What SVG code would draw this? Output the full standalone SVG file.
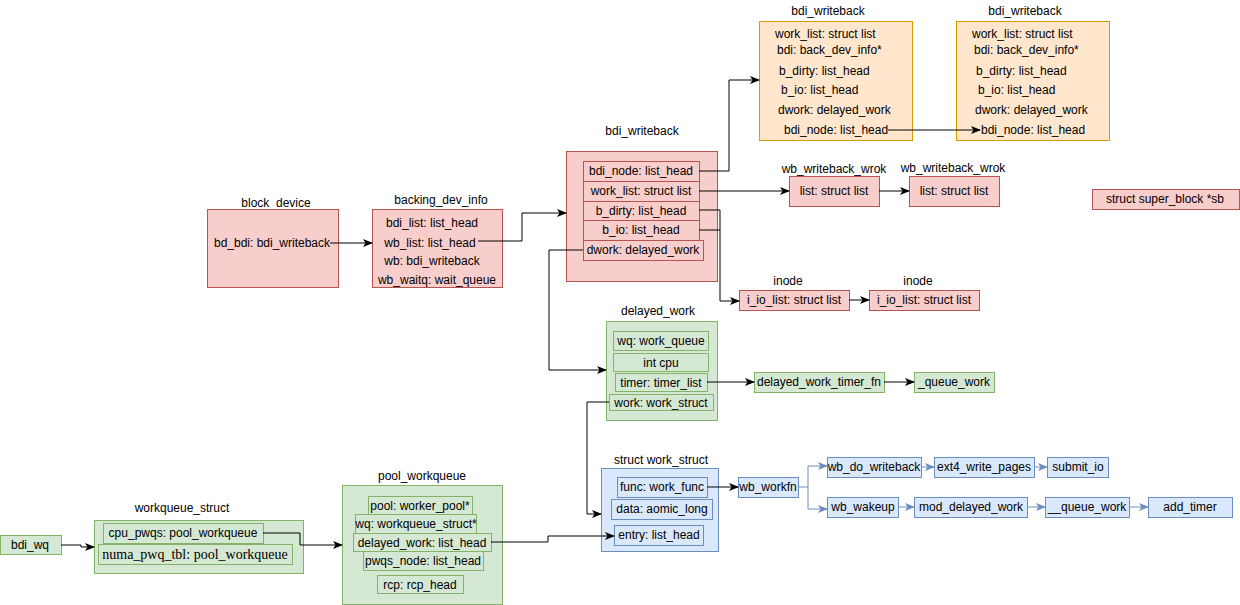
<svg xmlns="http://www.w3.org/2000/svg" width="1240" height="605" viewBox="0 0 1240 605">
<defs>
<style>
text{font-family:"Liberation Sans",Arial,sans-serif;font-size:12px;fill:#000}
.c{text-anchor:middle}
.serif{font-family:"Liberation Serif","Times New Roman",serif;font-size:14px}
.red{fill:#f8cecc;stroke:#b85450;stroke-width:1}
.org{fill:#ffe6cc;stroke:#d79b00;stroke-width:1}
.grn{fill:#d5e8d4;stroke:#82b366;stroke-width:1}
.blu{fill:#dae8fc;stroke:#6c8ebf;stroke-width:1}
.ln{fill:none;stroke:#000;stroke-width:1;marker-end:url(#ab)}
.lnn{fill:none;stroke:#000;stroke-width:1}
.bl{fill:none;stroke:#6c8ebf;stroke-width:1;marker-end:url(#abb)}
</style>
<marker id="ab" viewBox="0 0 10 8" refX="9" refY="4" markerWidth="10" markerHeight="8" markerUnits="userSpaceOnUse" orient="auto">
<path d="M0,0 L10,4 L0,8 L2.5,4 z" fill="#000"/>
</marker>
<marker id="abb" viewBox="0 0 10 8" refX="9" refY="4" markerWidth="10" markerHeight="8" markerUnits="userSpaceOnUse" orient="auto">
<path d="M0,0 L10,4 L0,8 L2.5,4 z" fill="#6c8ebf"/>
</marker>
</defs>
<rect width="1240" height="605" fill="#fff"/>

<g id="bdi_writeback_top1">
<text class="c" x="828" y="15">bdi_writeback</text>
<rect class="org" x="759.5" y="21.5" width="153" height="119"/>
<text x="775" y="38">work_list: struct list</text>
<text x="777" y="54">bdi: back_dev_info*</text>
<text x="779" y="75">b_dirty: list_head</text>
<text x="781" y="94">b_io: list_head</text>
<text x="778" y="114">dwork: delayed_work</text>
<text x="784" y="134">bdi_node: list_head</text>
</g>

<g id="bdi_writeback_top2">
<text class="c" x="1025" y="15">bdi_writeback</text>
<rect class="org" x="956.5" y="21.5" width="153" height="119"/>
<text x="972" y="38">work_list: struct list</text>
<text x="974" y="54">bdi: back_dev_info*</text>
<text x="976" y="75">b_dirty: list_head</text>
<text x="978" y="94">b_io: list_head</text>
<text x="975" y="114">dwork: delayed_work</text>
<text x="981" y="134">bdi_node: list_head</text>
</g>

<g id="bdi_writeback_mid">
<text class="c" x="642" y="135">bdi_writeback</text>
<rect class="red" x="566.5" y="151.5" width="151" height="130"/>
<rect class="red" x="583.5" y="161.5" width="116" height="20"/>
<text class="c" x="641" y="175">bdi_node: list_head</text>
<rect class="red" x="583.5" y="181.5" width="116" height="20"/>
<text class="c" x="641" y="195">work_list: struct list</text>
<rect class="red" x="583.5" y="201.5" width="116" height="19"/>
<text class="c" x="641" y="215">b_dirty: list_head</text>
<rect class="red" x="583.5" y="220.5" width="116" height="20"/>
<text class="c" x="641" y="234">b_io: list_head</text>
<rect class="red" x="583.5" y="240.5" width="120" height="20"/>
<text class="c" x="643" y="254">dwork: delayed_work</text>
</g>

<g id="block_device">
<text class="c" x="276" y="207">block_device</text>
<rect class="red" x="207.5" y="209.5" width="131" height="78"/>
<text class="c" x="272" y="247">bd_bdi: bdi_writeback</text>
</g>

<g id="backing_dev_info">
<text class="c" x="441" y="204">backing_dev_info</text>
<rect class="red" x="372.5" y="209.5" width="130" height="78"/>
<text class="c" x="432" y="227">bdi_list: list_head</text>
<text class="c" x="430" y="247">wb_list: list_head</text>
<text class="c" x="432" y="265">wb: bdi_writeback</text>
<text class="c" x="437" y="284">wb_waitq: wait_queue</text>
</g>

<g id="wb_writeback_wrok1">
<text class="c" x="834" y="173">wb_writeback_wrok</text>
<rect class="red" x="789.5" y="176.5" width="90" height="30"/>
<text class="c" x="834" y="195">list: struct list</text>
</g>
<g id="wb_writeback_wrok2">
<text class="c" x="953" y="172">wb_writeback_wrok</text>
<rect class="red" x="909.5" y="176.5" width="90" height="30"/>
<text class="c" x="954" y="195">list: struct list</text>
</g>

<g id="super_block">
<rect class="red" x="1092.5" y="189.5" width="147" height="20"/>
<text class="c" x="1165" y="203">struct super_block *sb</text>
</g>

<g id="inode1">
<text class="c" x="788" y="285">inode</text>
<rect class="red" x="739.5" y="290.5" width="110" height="20"/>
<text class="c" x="794" y="304">i_io_list: struct list</text>
</g>
<g id="inode2">
<text class="c" x="918" y="285">inode</text>
<rect class="red" x="869.5" y="290.5" width="110" height="20"/>
<text class="c" x="924" y="304">i_io_list: struct list</text>
</g>

<g id="delayed_work">
<text class="c" x="658" y="315">delayed_work</text>
<rect class="grn" x="606.5" y="321.5" width="111" height="99"/>
<rect class="grn" x="613.5" y="331.5" width="95" height="19"/>
<text class="c" x="661" y="345">wq: work_queue</text>
<rect class="grn" x="613.5" y="353.5" width="95" height="18"/>
<text class="c" x="661" y="367">int cpu</text>
<rect class="grn" x="615.5" y="373.5" width="92" height="18"/>
<text class="c" x="661" y="387">timer: timer_list</text>
<rect class="grn" x="609.5" y="394.5" width="104" height="16"/>
<text class="c" x="661" y="407">work: work_struct</text>
</g>

<g id="delayed_work_timer_fn">
<rect class="grn" x="754.5" y="372.5" width="130" height="20"/>
<text class="c" x="819" y="386">delayed_work_timer_fn</text>
</g>
<g id="queue_work_green">
<rect class="grn" x="914.5" y="372.5" width="80" height="20"/>
<text class="c" x="954" y="386">_queue_work</text>
</g>

<g id="work_struct">
<text class="c" x="661" y="464">struct work_struct</text>
<rect class="blu" x="601.5" y="468.5" width="117" height="83"/>
<rect class="blu" x="617.5" y="477.5" width="90" height="20"/>
<text class="c" x="662" y="491">func: work_func</text>
<rect class="blu" x="611.5" y="499.5" width="101" height="20"/>
<text class="c" x="662" y="513">data: aomic_long</text>
<rect class="blu" x="614.5" y="525.5" width="89" height="20"/>
<text class="c" x="659" y="539">entry: list_head</text>
</g>

<g id="wb_workfn">
<rect class="blu" x="738.5" y="477.5" width="60" height="20"/>
<text class="c" x="768" y="491">wb_workfn</text>
</g>
<g id="wb_do_writeback">
<rect class="blu" x="827.5" y="457.5" width="94" height="20"/>
<text class="c" x="874" y="471">wb_do_writeback</text>
</g>
<g id="ext4_write_pages">
<rect class="blu" x="934.5" y="457.5" width="100" height="20"/>
<text class="c" x="984" y="471">ext4_write_pages</text>
</g>
<g id="submit_io">
<rect class="blu" x="1047.5" y="457.5" width="61" height="20"/>
<text class="c" x="1078" y="471">submit_io</text>
</g>
<g id="wb_wakeup">
<rect class="blu" x="827.5" y="497.5" width="71" height="20"/>
<text class="c" x="863" y="511">wb_wakeup</text>
</g>
<g id="mod_delayed_work">
<rect class="blu" x="914.5" y="497.5" width="113" height="20"/>
<text class="c" x="971" y="511">mod_delayed_work</text>
</g>
<g id="queue_work_blue">
<rect class="blu" x="1045.5" y="497.5" width="84" height="20"/>
<text class="c" x="1087" y="511">__queue_work</text>
</g>
<g id="add_timer">
<rect class="blu" x="1148.5" y="497.5" width="84" height="20"/>
<text class="c" x="1190" y="511">add_timer</text>
</g>

<g id="bdi_wq">
<rect class="grn" x="0.5" y="535.5" width="61" height="19"/>
<text class="c" x="30" y="549">bdi_wq</text>
</g>

<g id="workqueue_struct">
<text class="c" x="182" y="512">workqueue_struct</text>
<rect class="grn" x="94.5" y="520.5" width="209" height="53"/>
<rect class="grn" x="103.5" y="523.5" width="160" height="20"/>
<text class="c" x="183" y="537">cpu_pwqs: pool_workqueue</text>
<rect class="grn" x="98.5" y="544.5" width="194" height="20"/>
<text class="c serif" x="195" y="559">numa_pwq_tbl: pool_workqueue</text>
</g>

<g id="pool_workqueue">
<text class="c" x="422" y="480">pool_workqueue</text>
<rect class="grn" x="342.5" y="485.5" width="160" height="119"/>
<rect class="grn" x="368.5" y="496.5" width="104" height="18"/>
<text class="c" x="420" y="510">pool: worker_pool*</text>
<rect class="grn" x="355.5" y="514.5" width="121" height="19"/>
<text class="c" x="416" y="528">wq: workqueue_struct*</text>
<rect class="grn" x="353.5" y="533.5" width="138" height="18"/>
<text class="c" x="422" y="547">delayed_work: list_head</text>
<rect class="grn" x="363.5" y="551.5" width="120" height="19"/>
<text class="c" x="423" y="565">pwqs_node: list_head</text>
<rect class="grn" x="377.5" y="575.5" width="86" height="18"/>
<text class="c" x="420" y="589">rcp: rcp_head</text>
</g>

<g id="connectors">
<path class="ln" d="M888,130 H980"/>
<path class="ln" d="M699,171 H729 V80 H759"/>
<path class="ln" d="M699,191 H789"/>
<path class="ln" d="M699,210 H720 V301 H739"/>
<path class="lnn" d="M699,230 H720"/>
<path class="ln" d="M583,250 H549 V370 H606"/>
<path class="ln" d="M879,191 H909"/>
<path class="ln" d="M849,300 H869"/>
<path class="ln" d="M330,243 H372"/>
<path class="ln" d="M478,241 H522 V213 H566"/>
<path class="ln" d="M707,382 H754"/>
<path class="ln" d="M884,382 H914"/>
<path class="ln" d="M609,402 H587 V514 H601"/>
<path class="ln" d="M707,487 H738"/>
<path class="bl" d="M798,487 H808 V466 H827"/>
<path class="bl" d="M808,487 V509 H827"/>
<path class="bl" d="M921,467 H934"/>
<path class="bl" d="M1034,467 H1047"/>
<path class="bl" d="M898,507 H914"/>
<path class="bl" d="M1027,507 H1045"/>
<path class="bl" d="M1129,507 H1148"/>
<path class="ln" d="M61,545 H81 V547 H94"/>
<path class="ln" d="M263,533 H300 V545 H342"/>
<path class="ln" d="M491,542 H548 V536 H614"/>
</g>
</svg>
